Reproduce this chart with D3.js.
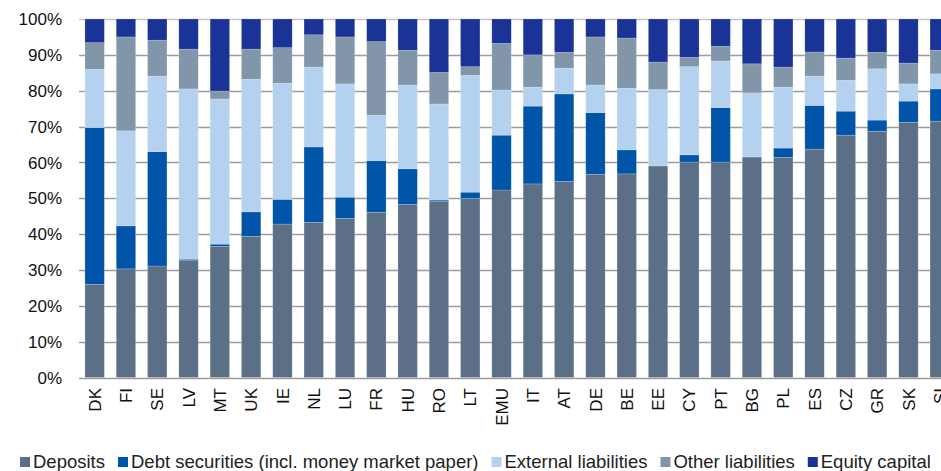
<!DOCTYPE html>
<html>
<head>
<meta charset="utf-8">
<script src="https://cdn.jsdelivr.net/npm/d3@7/dist/d3.min.js"></script>
<style>
  body { margin: 0; background: #fff; overflow: hidden; }
  svg text { font-family: "Liberation Sans", Arial, sans-serif; }
</style>
</head>
<body>
<div id="chart"></div>
<script>
// countries, in the order shown
var countries = ["DK", "FI", "SE", "LV", "MT", "UK", "IE", "NL", "LU", "FR", "HU", "RO", "LT", "EMU",
    "IT", "AT", "DE", "BE", "EE", "CY", "PT", "BG", "PL", "ES", "CZ", "GR", "SK", "SI"];

// shares of total liabilities (%)
var deposits = [26.0, 30.3, 31.1, 32.6, 36.6, 39.4, 42.8, 43.3, 44.4, 46.1, 48.3, 49.2, 50.0, 52.3,
    54.0, 54.7, 56.7, 56.8, 59.0, 60.1, 60.1, 61.5, 61.4, 63.7, 67.6, 68.7, 71.2, 71.5];
var debtSecurities = [43.7, 12.0, 31.9, 0.4, 0.6, 6.8, 6.9, 21.0, 5.9, 14.4, 9.9, 0.3, 1.7, 15.3,
    21.7, 24.4, 17.2, 6.7, 0.0, 2.0, 15.2, 0.1, 2.6, 12.2, 6.7, 3.1, 5.9, 9.0];
var externalLiab = [16.3, 26.5, 21.1, 47.5, 40.5, 37.0, 32.4, 22.3, 31.6, 12.7, 23.4, 26.8, 32.6, 12.6,
    5.3, 7.2, 7.7, 17.2, 21.3, 24.6, 13.0, 17.8, 17.0, 8.2, 8.6, 14.3, 4.8, 4.2];
var otherLiab = [7.4, 26.2, 10.0, 11.1, 2.2, 8.4, 9.9, 9.0, 13.1, 20.5, 9.7, 8.8, 2.4, 13.0,
    9.0, 4.4, 13.4, 14.0, 7.7, 2.6, 4.1, 8.1, 5.6, 6.7, 6.2, 4.6, 5.8, 6.6];
var equityCapital = [6.6, 5.0, 5.9, 8.4, 20.1, 8.4, 8.0, 4.4, 5.0, 6.3, 8.7, 14.9, 13.3, 6.8,
    10.0, 9.3, 5.0, 5.3, 12.0, 10.7, 7.6, 12.5, 13.4, 9.2, 10.9, 9.3, 12.3, 8.7];

var seriesNames = ["Deposits", "Debt securities (incl. money market paper)", "External liabilities",
    "Other liabilities", "Equity capital"];
var seriesColors = ["#5b7086", "#0055a9", "#b4d1ef", "#8196a9", "#193397"];
var yTicks = [0, 10, 20, 30, 40, 50, 60, 70, 80, 90, 100];

var width = 941, height = 471;

var svg = d3.select("#chart").append("svg")
    .attr("width", width)
    .attr("height", height);

// build rows for the stack
var seriesData = [deposits, debtSecurities, externalLiab, otherLiab, equityCapital];
var rows = countries.map(function (c, i) {
    var r = { country: c };
    seriesNames.forEach(function (s, j) { r[s] = seriesData[j][i]; });
    return r;
});

var layers = d3.stack().keys(seriesNames)(rows);

var xScale = d3.scaleBand()
    .domain(countries)
    .range([79, 79 + countries.length * 31.3])
    .paddingInner(0.38)
    .paddingOuter(0.19);

var yScale = d3.scaleLinear()
    .domain([0, 100])
    .range([377.5, 19]);

// gridlines
svg.append("g")
    .selectAll("line")
    .data(yTicks)
    .join("line")
    .attr("x1", 79)
    .attr("x2", width)
    .attr("y1", function (d) { return Math.round(yScale(d)) + 0.5; })
    .attr("y2", function (d) { return Math.round(yScale(d)) + 0.5; })
    .attr("stroke", function (d) { return d === 100 ? "#c4c4c4" : "#9c9c9c"; })
    .attr("stroke-width", 1.3);

// y labels
svg.append("g")
    .selectAll("text")
    .data(yTicks)
    .join("text")
    .attr("x", 62)
    .attr("y", function (d) { return yScale(d); })
    .attr("dy", "0.36em")
    .attr("text-anchor", "end")
    .attr("font-size", 17)
    .attr("fill", "#111")
    .text(function (d) { return d + "%"; });

// bars
svg.append("g")
    .selectAll("g")
    .data(layers)
    .join("g")
    .attr("fill", function (d, i) { return seriesColors[i]; })
    .selectAll("rect")
    .data(function (d) { return d; })
    .join("rect")
    .attr("x", function (d) { return xScale(d.data.country); })
    .attr("width", xScale.bandwidth())
    .attr("y", function (d) { return yScale(d[1]); })
    .attr("height", function (d) { return yScale(d[0]) - yScale(d[1]); })
    .attr("stroke", "#ffffff")
    .attr("stroke-opacity", 0.3)
    .attr("stroke-width", 0.6);

// x labels, rotated
svg.append("g")
    .selectAll("text")
    .data(countries)
    .join("text")
    .attr("transform", function (d) {
        return "translate(" + (xScale(d) + xScale.bandwidth() / 2) + ",388) rotate(-90)";
    })
    .attr("dy", "0.36em")
    .attr("text-anchor", "end")
    .attr("font-size", 17)
    .attr("fill", "#111")
    .text(function (d) { return d; });

// legend
var legend = svg.append("g");
var lx = 20;
seriesNames.forEach(function (name, i) {
    legend.append("rect")
        .attr("x", lx)
        .attr("y", 457)
        .attr("width", 10)
        .attr("height", 10)
        .attr("fill", seriesColors[i]);
    var t = legend.append("text")
        .attr("x", lx + 13)
        .attr("y", 467.5)
        .attr("font-size", 18.5)
        .attr("fill", "#222")
        .text(name);
    lx += 13 + t.node().getComputedTextLength() + 13;
});
</script>
</body>
</html>
